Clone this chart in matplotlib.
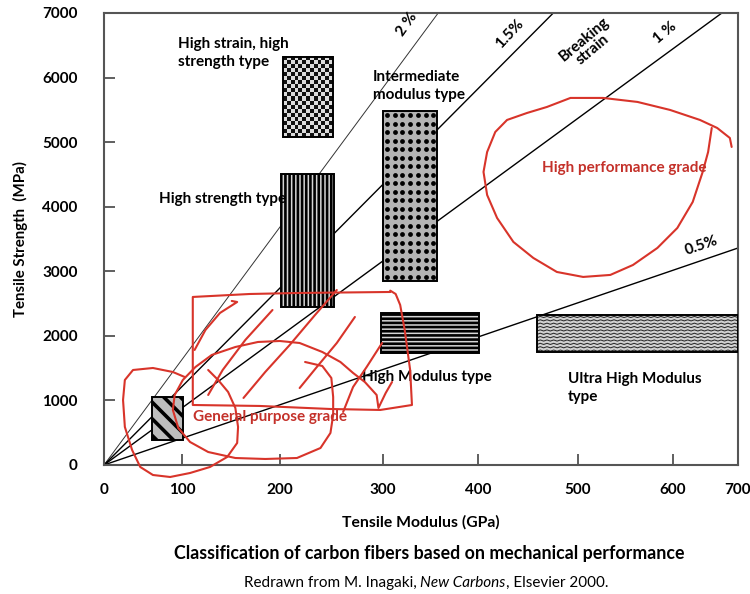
import numpy as np
import matplotlib
matplotlib.use("Agg")
import matplotlib.pyplot as plt
from matplotlib.patches import Rectangle
from matplotlib.colors import ListedColormap

plt.rcParams['font.family'] = ['Lato', 'DejaVu Sans']
plt.rcParams['hatch.linewidth'] = 1.9

RED = '#d8342a'
RED_TXT = '#c4312a'

# fibre classes, boxes (modulus GPa, strength MPa)
mod_lo = [198, 308, 195, 306, 478, 53]
mod_hi = [253, 368, 254, 414, 700, 87]
str_lo = [5080, 2850, 2447, 1735, 1750, 387]
str_hi = [6320, 5482, 4507, 2354, 2323, 1053]

class_names = ['High strain, high\nstrength type', 'Intermediate\nmodulus type',
               'High strength type', 'High Modulus type', 'Ultra High Modulus\ntype']
name_x = [82, 297, 61, 285, 512]
name_y = [6380, 5870, 4120, 1363, 1193]

# breaking strain lines through the origin
strain_labels = ['2 %', '1.5%', '1 %', '0.5%']
strain_slope = [18.97, 14.11, 10.26, 4.80]
strain_lab_x = [334, 448, 619, 660]
strain_lab_y = [6820, 6675, 6690, 3390]
strain_lab_rot = [55, 47, 40, 19]

x_tick_pos = [0, 86, 194, 308, 413, 523, 628, 700]
x_tick_lab = ['0', '100', '200', '300', '400', '500', '600', '700']
y_ticks = [0, 1000, 2000, 3000, 4000, 5000, 6000, 7000]

# red hand-drawn marks
hp_x = [693, 691, 677, 658, 625, 589, 551, 515, 489, 467, 445, 432, 423, 419, 423, 434,
        452, 474, 500, 529, 559, 584, 611, 633, 650, 661, 667, 671]
hp_y = [4925, 5064, 5219, 5343, 5498, 5622, 5684, 5684, 5544, 5451, 5343, 5157, 4847, 4538,
        4181, 3825, 3454, 3206, 2989, 2912, 2943, 3097, 3361, 3670, 4073, 4538, 4847, 5219]
box_x = [316, 216, 161, 98, 98, 172, 250, 305, 340, 338, 332, 327, 322, 316]
box_y = [2679, 2664, 2648, 2602, 929, 914, 867, 852, 929, 1471, 2091, 2478, 2648, 2700]
ll_x = [89, 76, 54, 32, 23, 21, 23, 31, 40, 54, 73, 95, 117, 136, 147, 148, 145, 137, 126, 115]
ll_y = [1363, 1440, 1502, 1471, 1316, 1007, 589, 232, -31, -155, -186, -124, -31, 124, 341,
        589, 883, 1131, 1316, 1471]
mid_x = [222, 241, 251, 253, 253, 250, 239, 213, 178, 145, 115, 95, 82, 76, 78, 87, 101, 119,
         145, 170, 194, 216, 241, 261, 275, 288, 301, 303, 311, 318]
mid_y = [1595, 1533, 1347, 1053, 774, 496, 263, 108, 93, 108, 201, 356, 573, 852, 1084, 1316,
         1518, 1704, 1827, 1905, 1920, 1889, 1750, 1595, 1425, 1285, 1084, 883, 1115, 1285]
s1_x, s1_y = [100, 112, 128, 147, 141], [1781, 2091, 2354, 2524, 2540]
s2_x, s2_y = [115, 131, 156, 186], [1084, 1471, 1936, 2400]
s3_x, s3_y = [154, 178, 205, 233, 257], [1038, 1440, 1858, 2323, 2710]
s4_x, s4_y = [216, 235, 257, 277], [1192, 1518, 1889, 2292]
s5_x, s5_y = [264, 275, 290, 307], [821, 1208, 1518, 1889]

fig = plt.figure(figsize=(7.5, 5.94), dpi=100)
ax = fig.add_axes([0.1387, 0.2172, 0.8453, 0.761])

for s, w, c in zip(strain_slope, [0.7, 1.0, 1.0, 1.0], ['#333333', 'black', 'black', 'black']):
    ax.axline((0, 0), slope=s, color=c, lw=w, zorder=1)

def box(i, **kw):
    r = Rectangle((mod_lo[i], str_lo[i]), mod_hi[i] - mod_lo[i], str_hi[i] - str_lo[i], **kw)
    ax.add_patch(r)
    return r

# high strain, high strength: checkerboard
cells = np.add.outer(np.arange(20), np.arange(13)) % 2
ax.imshow(cells, cmap=ListedColormap(['#111111', '#dcdcdc']),
          extent=(mod_lo[0], mod_hi[0], str_lo[0], str_hi[0]),
          aspect='auto', interpolation='nearest', zorder=2)

# intermediate modulus: dots on grey
clip = box(1, facecolor='#b4b4b4', edgecolor='none', zorder=2)
gx = np.linspace(mod_lo[1], mod_hi[1], 15)[1::2]
gy = np.linspace(str_lo[1], str_hi[1], 41)[1::2]
mx, my = np.meshgrid(gx, gy)
dots = ax.scatter(mx.ravel(), my.ravel(), s=12, color='black', lw=0, zorder=3)
dots.set_clip_path(clip)

# high strength: vertical lines
box(2, facecolor='#d6d6d6', edgecolor='black', hatch='||||', lw=0, zorder=2)
# high modulus: horizontal lines
box(3, facecolor='#d6d6d6', edgecolor='black', hatch='----', lw=0, zorder=2)

# ultra high modulus: zigzag texture
clip = box(4, facecolor='#d2d2d2', edgecolor='none', zorder=2)
zx = np.arange(mod_lo[4], mod_hi[4] + 4, 3.7)
for row in np.linspace(str_lo[4], str_hi[4], 12)[1:]:
    zy = row - 40 + 18 * (np.arange(len(zx)) % 2)
    ln, = ax.plot(zx, zy, color='#2a2a2a', lw=0.75, zorder=3)
    ln.set_clip_path(clip)

# general purpose: diagonal hatch
with plt.rc_context({'hatch.linewidth': 2.6}):
    box(5, facecolor='#bdbdbd', edgecolor='black', hatch='\\\\', lw=0, zorder=2)

for i in range(6):
    box(i, facecolor='none', edgecolor='black', lw=1.4, zorder=4)

FS = 11
for t, x, y in zip(class_names, name_x, name_y):
    ax.text(x, y, t, fontsize=FS, fontweight='bold', ha='left', va='center',
            linespacing=1.3, zorder=5)

for t, x, y, r in zip(strain_labels, strain_lab_x, strain_lab_y, strain_lab_rot):
    ax.text(x, y, t, fontsize=FS, fontweight='bold', ha='center', va='center',
            rotation=r, zorder=5)
ax.text(535, 6510, 'Breaking\nstrain', fontsize=FS, fontweight='bold', ha='center',
        va='center', rotation=40, linespacing=1.0, zorder=5)

for xs, ys in [(hp_x, hp_y), (box_x, box_y), (ll_x, ll_y), (mid_x, mid_y), (s1_x, s1_y),
               (s2_x, s2_y), (s3_x, s3_y), (s4_x, s4_y), (s5_x, s5_y)]:
    ax.plot(xs, ys, color=RED, lw=1.5, clip_on=False, zorder=6,
            solid_joinstyle='round', solid_capstyle='round')

ax.text(484, 4600, 'High performance grade', color=RED_TXT, fontsize=FS,
        fontweight='bold', va='center', zorder=7)
ax.text(98, 743, 'General purpose grade', color=RED_TXT, fontsize=FS,
        fontweight='bold', va='center', zorder=7)

ax.set_xlim(0, 700)
ax.set_ylim(0, 7000)
ax.set_xticks(x_tick_pos, x_tick_lab)
ax.set_yticks(y_ticks)
ax.tick_params(direction='in', length=8, width=1.2, color='#444444', labelsize=11,
               top=False, right=False)
ax.tick_params(axis='y', pad=19)
ax.tick_params(axis='x', pad=13)
for lab in ax.get_xticklabels() + ax.get_yticklabels():
    lab.set_fontweight('bold')
for sp in ax.spines.values():
    sp.set_color('#555555')
    sp.set_linewidth(1.5)

ax.set_xlabel('Tensile Modulus (GPa)', fontsize=11.3, fontweight='bold', labelpad=13)
ax.set_ylabel('Tensile Strength  (MPa)', fontsize=10.8, fontweight='bold', labelpad=10)

fig.text(0.573, 0.069, 'Classification of carbon fibers based on mechanical performance',
         ha='center', va='center', fontsize=12.8, fontweight='bold')
t1 = fig.text(0.325, 0.012, 'Redrawn from M. Inagaki, ', ha='left', va='baseline', fontsize=11)
t2 = ax.annotate('New Carbons', xy=(1, 0), xycoords=t1, va='bottom', fontsize=11,
                 style='italic', annotation_clip=False)
ax.annotate(', Elsevier 2000.', xy=(1, 0), xycoords=t2, va='bottom', fontsize=11,
            annotation_clip=False)

fig.savefig('out.png', dpi=100)
